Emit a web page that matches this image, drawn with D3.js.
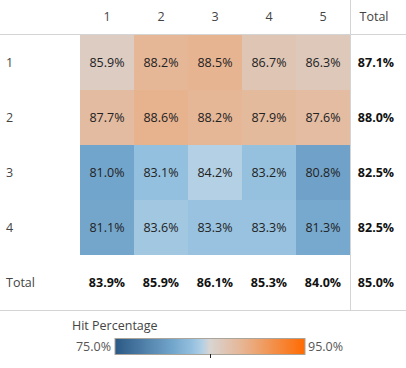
<!DOCTYPE html>
<html>
<head>
<meta charset="utf-8">
<script src="https://cdn.jsdelivr.net/npm/d3@7"></script>
<style>
  html, body { margin: 0; padding: 0; background: #fff; }
  svg { display: block; font-family: "Open Sans", Lato, sans-serif; }
</style>
</head>
<body>
<svg id="chart" width="406" height="368"></svg>
<script>
const columns = ["1", "2", "3", "4", "5"];
const rows = ["1", "2", "3", "4"];
const values = [
  [85.9, 88.2, 88.5, 86.7, 86.3],
  [87.7, 88.6, 88.2, 87.9, 87.6],
  [81.0, 83.1, 84.2, 83.2, 80.8],
  [81.1, 83.6, 83.3, 83.3, 81.3]
];
const rowTotals = [87.1, 88.0, 82.5, 82.5];
const colTotals = [83.9, 85.9, 86.1, 85.3, 84.0];
const grandTotal = 85.0;
const legendTitle = "Hit Percentage";
const legendDomain = [75, 95];
const colorStops = [75, 81, 83.2, 84.2, 85, 86, 88.5, 95];
const colorRange = ["#2b5985", "#72a5cb", "#95c1df", "#b3d0e4", "#d9d5d1", "#dccbc0", "#e7b491", "#ff6a00"];

const FS = 12.5;
const svg = d3.select("#chart");
const fmt = v => v.toFixed(1) + "%";
const color = d3.scaleLinear().domain(colorStops).range(colorRange).interpolate(d3.interpolateRgb).clamp(true);

const x = d3.scaleBand().domain(columns).range([80, 350]);
const y = d3.scaleBand().domain(rows).range([35, 255]);
const totalRowY = [255, 310];
const totalColX = 376;

// cells
const cells = [];
values.forEach((r, i) => r.forEach((v, j) => cells.push({ row: rows[i], col: columns[j], v })));
svg.append("g").selectAll("rect").data(cells).join("rect")
  .attr("x", d => x(d.col)).attr("y", d => y(d.row))
  .attr("width", x.bandwidth()).attr("height", y.bandwidth())
  .attr("fill", d => color(d.v));
svg.append("g").selectAll("text").data(cells).join("text")
  .attr("x", d => x(d.col) + x.bandwidth() / 2)
  .attr("y", d => y(d.row) + y.bandwidth() / 2)
  .attr("text-anchor", "middle").attr("dominant-baseline", "central")
  .attr("font-size", FS).attr("fill", "#222")
  .text(d => fmt(d.v));

// grid lines
svg.append("line").attr("x1", 0).attr("x2", 406).attr("y1", 34.5).attr("y2", 34.5).attr("stroke", "#d4d4d4");
svg.append("line").attr("x1", 0).attr("x2", 406).attr("y1", 310.5).attr("y2", 310.5).attr("stroke", "#d4d4d4");
svg.append("line").attr("x1", 350.5).attr("x2", 350.5).attr("y1", 0).attr("y2", 310).attr("stroke", "#d4d4d4");

// column headers
svg.append("g").selectAll("text").data(columns).join("text")
  .attr("x", d => x(d) + x.bandwidth() / 2).attr("y", 16)
  .attr("text-anchor", "middle").attr("dominant-baseline", "central")
  .attr("font-size", FS).attr("fill", "#444").text(d => d);
svg.append("text").attr("x", totalColX - 2).attr("y", 16)
  .attr("text-anchor", "middle").attr("dominant-baseline", "central")
  .attr("font-size", FS).attr("fill", "#444").text("Total");

// row headers
svg.append("g").selectAll("text").data(rows).join("text")
  .attr("x", 6).attr("y", d => y(d) + y.bandwidth() / 2)
  .attr("dominant-baseline", "central")
  .attr("font-size", FS).attr("fill", "#444").text(d => d);
svg.append("text").attr("x", 6).attr("y", (totalRowY[0] + totalRowY[1]) / 2)
  .attr("dominant-baseline", "central")
  .attr("font-size", FS).attr("fill", "#444").text("Total");

// row totals
svg.append("g").selectAll("text").data(rowTotals).join("text")
  .attr("x", totalColX).attr("y", (d, i) => y(rows[i]) + y.bandwidth() / 2)
  .attr("text-anchor", "middle").attr("dominant-baseline", "central")
  .attr("font-size", FS).attr("font-weight", "bold").attr("fill", "#111")
  .text(d => fmt(d));
// column totals
svg.append("g").selectAll("text").data(colTotals).join("text")
  .attr("x", (d, i) => x(columns[i]) + x.bandwidth() / 2).attr("y", (totalRowY[0] + totalRowY[1]) / 2)
  .attr("text-anchor", "middle").attr("dominant-baseline", "central")
  .attr("font-size", FS).attr("font-weight", "bold").attr("fill", "#111")
  .text(d => fmt(d));
svg.append("text").attr("x", totalColX).attr("y", (totalRowY[0] + totalRowY[1]) / 2)
  .attr("text-anchor", "middle").attr("dominant-baseline", "central")
  .attr("font-size", FS).attr("font-weight", "bold").attr("fill", "#111")
  .text(fmt(grandTotal));

// legend
const lx = d3.scaleLinear().domain(legendDomain).range([115, 305]);
const defs = svg.append("defs");
const grad = defs.append("linearGradient").attr("id", "lg").attr("x1", "0%").attr("x2", "100%");
d3.range(0, 1.0001, 0.02).forEach(t => {
  const v = legendDomain[0] + t * (legendDomain[1] - legendDomain[0]);
  grad.append("stop").attr("offset", (t * 100) + "%").attr("stop-color", color(v));
});
svg.append("text").attr("x", 72).attr("y", 325).attr("dominant-baseline", "central")
  .attr("font-size", FS).attr("fill", "#444").text(legendTitle);
svg.append("rect").attr("x", lx(legendDomain[0])).attr("y", 338.5)
  .attr("width", lx(legendDomain[1]) - lx(legendDomain[0])).attr("height", 16)
  .attr("fill", "url(#lg)").attr("stroke", "#aaa49a").attr("stroke-width", 1);
svg.append("line").attr("x1", Math.round(lx(85)) + 0.5).attr("x2", Math.round(lx(85)) + 0.5)
  .attr("y1", 354).attr("y2", 358).attr("stroke", "#222");
svg.append("text").attr("x", lx(legendDomain[0]) - 4).attr("y", 346.5).attr("text-anchor", "end")
  .attr("dominant-baseline", "central").attr("font-size", FS).attr("fill", "#555").text(fmt(legendDomain[0]));
svg.append("text").attr("x", lx(legendDomain[1]) + 3).attr("y", 346.5)
  .attr("dominant-baseline", "central").attr("font-size", FS).attr("fill", "#555").text(fmt(legendDomain[1]));
</script>
</body>
</html>
